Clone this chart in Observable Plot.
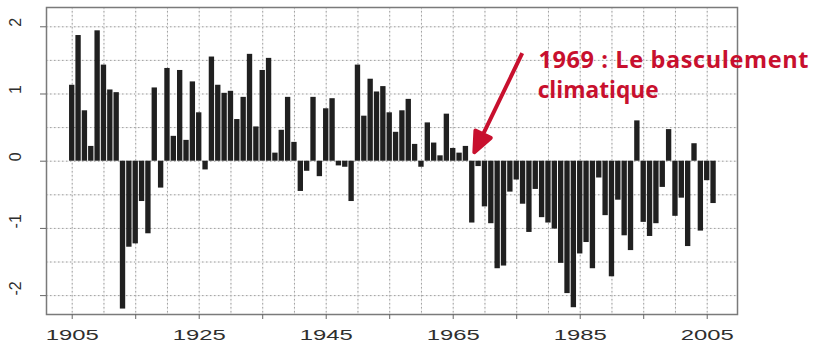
<!DOCTYPE html>
<html>
<head>
<meta charset="utf-8">
<script src="https://cdn.jsdelivr.net/npm/d3@7"></script>
<script src="https://cdn.jsdelivr.net/npm/@observablehq/plot@0.6"></script>
<style>
  html, body { margin: 0; padding: 0; background: #fff; }
</style>
</head>
<body>
<div id="chart"></div>
<script>
// ---- Data ----
const firstYear = 1905;
const values = [
  1.13, 1.87, 0.75, 0.22, 1.94, 1.43, 1.06, 1.02, -2.20, -1.28,   // 1905-1914
  -1.23, -0.60, -1.08, 1.09, -0.40, 1.38, 0.37, 1.35, 0.31, 1.18, // 1915-1924
  0.72, -0.13, 1.55, 1.13, 1.01, 1.04, 0.62, 0.95, 1.59, 0.51,    // 1925-1934
  1.35, 1.53, 0.12, 0.46, 0.95, 0.28, -0.45, -0.15, 0.95, -0.23,  // 1935-1944
  0.78, 0.93, -0.07, -0.09, -0.60, 1.43, 0.67, 1.22, 1.03, 1.11,  // 1945-1954
  0.72, 0.43, 0.75, 0.92, 0.25, -0.09, 0.57, 0.27, 0.08, 0.70,    // 1955-1964
  0.19, 0.12, 0.22, -0.92, -0.08, -0.68, -0.93, -1.60, -1.56, -0.46, // 1965-1974
  -0.28, -0.64, -1.06, -0.42, -0.84, -0.92, -1.01, -1.52, -1.97, -2.18, // 1975-1984
  -1.38, -1.21, -1.60, -0.25, -0.81, -1.72, -0.58, -1.11, -1.33, 0.60,  // 1985-1994
  -0.91, -1.12, -0.93, -0.39, 0.47, -0.82, -0.55, -1.27, 0.26, -1.04,   // 1995-2004
  -0.29, -0.63                                                          // 2005-2006
];
const years = values.map((_, i) => firstYear + i);

const xGridYears = [1905, 1910, 1915, 1920, 1925, 1930, 1935, 1940, 1945, 1950, 1955,
                    1960, 1965, 1970, 1975, 1980, 1985, 1990, 1995, 2000, 2005];
const xTickYears = [1905, 1915, 1925, 1935, 1945, 1955, 1965, 1975, 1985, 1995, 2005];
const xLabelYears = [1905, 1925, 1945, 1965, 1985, 2005];
const yTicks = [2, 1, 0, -1, -2];
const yTickLabels = ["2", "1", "0", "-1", "-2"];
const yGrid = [-2, -1.5, -1, -0.5, 0, 0.5, 1, 1.5, 2];

const annotationLines = ["1969 : Le basculement", "climatique"];
const annotationX = [1978.43, 1978.3];
const annotationY = [1.50, 1.05];
const arrowMid = {x: 1972.03, y: 0.857};

const data = years.map((year, i) => ({year, value: values[i]}));

// ---- Styles ----
const red = "#c8102e";
const arrowShape = {
  draw(ctx, l) {
    const head = 22, half = 8.5;
    ctx.moveTo(0, 0);
    ctx.lineTo(0, -l + head - 2);
    ctx.moveTo(-half, -l + head);
    ctx.lineTo(0, -l + 2);
    ctx.lineTo(half, -l + head);
    ctx.closePath();
  }
};

const chart = Plot.plot({
  width: 815,
  height: 344,
  marginLeft: 46,
  marginRight: 78,
  marginTop: 7,
  marginBottom: 30,
  x: {domain: [1900.95, 2009.77]},
  y: {domain: [-2.281, 2.287]},
  style: {background: "#fff", fontFamily: "'Liberation Sans', Arial, sans-serif", color: "#333", overflow: "visible"},
  marks: [
    Plot.ruleY(yGrid, {stroke: "#ececec", strokeWidth: 1}),
    Plot.ruleY(yGrid, {stroke: "#a0a0a0", strokeWidth: 1, strokeDasharray: "1.5,2.5"}),
    Plot.ruleX(xGridYears, {stroke: "#ececec", strokeWidth: 1}),
    Plot.ruleX(xGridYears, {stroke: "#a0a0a0", strokeWidth: 1, strokeDasharray: "1.5,2.5"}),
    Plot.rectY(data, {
      x1: d => d.year - 0.5,
      x2: d => d.year + 0.5,
      y1: 0,
      y2: "value",
      fill: "#202020",
      insetLeft: 0.5,
      insetRight: 0.5
    }),
    Plot.frame({stroke: "#7a7a7a", strokeWidth: 1.5}),
    Plot.axisX(xTickYears, {tickSize: 5, tickFormat: () => "", stroke: "#666", label: null}),
    Plot.axisY(yTicks, {tickSize: 6, tickFormat: () => "", stroke: "#666", label: null}),
    Plot.text(xLabelYears, {
      x: d => d,
      text: d => String(d),
      frameAnchor: "bottom",
      lineAnchor: "top",
      dy: 15,
      fontSize: 15,
      fill: "#2e2e2e",
      ariaLabel: () => "xlabel"
    }),
    Plot.text(yTicks, {
      y: d => d,
      text: (d, i) => yTickLabels[i],
      frameAnchor: "left",
      dx: -31,
      rotate: -90,
      fontSize: 16,
      fill: "#2e2e2e"
    }),
    Plot.vector([arrowMid], {
      x: "x",
      y: "y",
      length: 112,
      rotate: 205.8,
      anchor: "middle",
      shape: arrowShape,
      stroke: red,
      fill: red,
      strokeWidth: 4,
      strokeLinejoin: "round",
      strokeLinecap: "butt"
    }),
    Plot.text(annotationLines, {
      x: (d, i) => annotationX[i],
      y: (d, i) => annotationY[i],
      text: d => d,
      textAnchor: "start",
      fontFamily: "'Open Sans', sans-serif",
      fontWeight: 700,
      fontSize: 23.5,
      fill: red,
      ariaLabel: (d, i) => "annotation" + i
    })
  ]
});

// Match the horizontally wide lettering of the reference
d3.select(chart).selectAll('text[aria-label="xlabel"]')
  .attr("textLength", 53).attr("lengthAdjust", "spacingAndGlyphs");
d3.select(chart).selectAll('text[aria-label="annotation0"]')
  .attr("textLength", 270).attr("lengthAdjust", "spacing");
d3.select(chart).selectAll('text[aria-label="annotation1"]')
  .attr("textLength", 121).attr("lengthAdjust", "spacingAndGlyphs");

document.getElementById("chart").appendChild(chart);
</script>
</body>
</html>
